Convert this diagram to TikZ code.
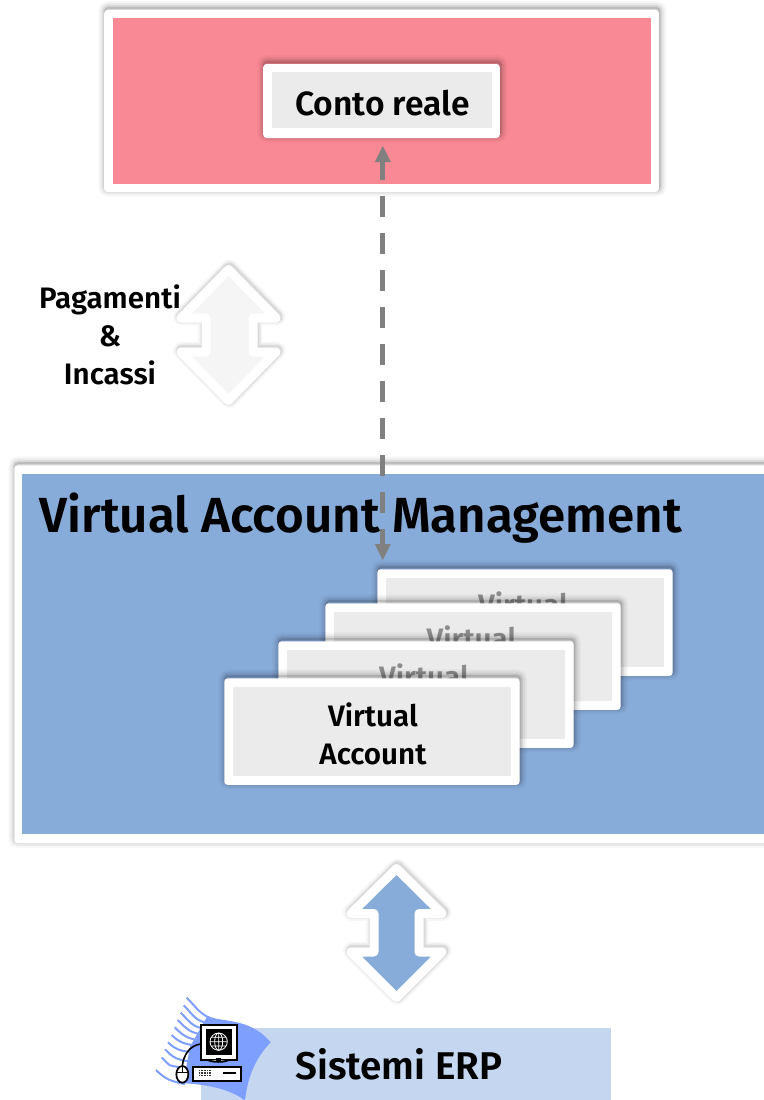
\documentclass[tikz,border=0pt]{standalone}
\usepackage{fontspec}
\setmainfont{Fira Sans SemiBold}
\definecolor{pinkfill}{HTML}{F98994}
\definecolor{bluefill}{HTML}{88ACDA}
\definecolor{cardgray}{HTML}{EBEBEB}
\definecolor{erpfill}{HTML}{C5D7F0}
\definecolor{swoosh}{HTML}{7F9FFF}
\definecolor{dashgray}{HTML}{808080}
\tikzset{
  softshadow/.style={
    preaction={draw=black,draw opacity=.03,line width=10pt,transform canvas={shift={(.6pt,1.6pt)}}},
    preaction={draw=black,draw opacity=.05,line width=7pt,transform canvas={shift={(.6pt,1.6pt)}}},
    preaction={draw=black,draw opacity=.08,line width=4pt,transform canvas={shift={(.6pt,1.6pt)}}},
    preaction={draw=black,draw opacity=.12,line width=1.5pt,transform canvas={shift={(.6pt,1.6pt)}}}},
  frame/.style={fill=white,rounded corners=2.5pt,inner sep=0pt,softshadow},
  panel/.style={inner sep=0pt,align=center},
  arrowshadow/.style={
    preaction={draw=black,draw opacity=.03,line width=13pt,line join=round,transform canvas={shift={(.6pt,1pt)}}},
    preaction={draw=black,draw opacity=.05,line width=10.5pt,line join=round,transform canvas={shift={(.6pt,1pt)}}},
    preaction={draw=black,draw opacity=.07,line width=8.5pt,line join=round,transform canvas={shift={(.6pt,1pt)}}}},
  bigarrow/.style={draw=white,line width=6.75pt,line join=round,arrowshadow},
  lbl/.style={align=center,inner sep=0pt,font=\fontsize{22.2pt}{28.5pt}\selectfont},
  linkline/.style={draw=dashgray,line width=4.1pt,dash pattern=on 15.75pt off 12pt,shorten <=9.75pt,shorten >=9.75pt},
  linktip/.style={fill=dashgray,draw=none},
}
\newcommand{\vcard}[7]{% name, left, top, text color, text centre x, text centre y, text
  \node[frame,minimum width=221.5pt,minimum height=80pt,anchor=north west] (#1) at (#2,#3) {};
  \node[panel,fill=cardgray,minimum width=208pt,minimum height=67pt] (#1in) at (#1.center) {};
  \node[lbl,text=#4,anchor=center] (#1txt) at (#5,#6) {#7};
}
\begin{document}
\begin{tikzpicture}[x=0.75pt,y=-0.75pt]
\useasboundingbox (0,0) rectangle (764,1100);
\clip (0,0) rectangle (764,1100);
\fill[white] (0,0) rectangle (764,1100);

% top panel
\node[frame,minimum width=416pt,minimum height=136.5pt] (realframe) at (381.5,101) {};
\node[panel,fill=pinkfill,minimum width=403.5pt,minimum height=124.5pt] (realpanel) at (382,101) {};
\node[frame,minimum width=177.5pt,minimum height=55.5pt] (contoframe) at (381.5,101) {};
\node[panel,fill=cardgray,minimum width=165pt,minimum height=42pt] (contoin) at (382,100) {};
\node[inner sep=0pt,anchor=base,font=\fontsize{25.2pt}{30pt}\selectfont] (conto) at (382.5,115) {Conto reale};

% Pagamenti arrow and label
\draw[bigarrow,fill=white!96!black] (228.5,269.5) -- (276,318) -- (253,318) -- (253,352) -- (276,352) -- (228.5,400.5) -- (181,352) -- (206,352) -- (206,318) -- (181,318) -- cycle;
\node[lbl,anchor=center] (pag) at (110,335) {Pagamenti\\\&\\Incassi};

% VAM panel
\node[frame,minimum width=600pt,minimum height=283.5pt,anchor=north west] (vamframe) at (14,465) {};
\node[panel,fill=bluefill,minimum width=600pt,minimum height=270pt,anchor=north west] (vampanel) at (22,474) {};
\node[inner sep=0pt,anchor=base west,font=\fontsize{37pt}{44pt}\selectfont] (vamtitle) at (39.5,532) {Virtual Account Management};

% cards, back to front
\vcard{cardA}{377}{569}{black!45}{523}{604}{Virtual}
\vcard{cardB}{325}{603}{black!45}{471.5}{638}{Virtual}
\vcard{cardC}{278}{641}{black!45}{424}{676}{Virtual}
\vcard{cardD}{224}{678}{black}{373}{734}{Virtual\\Account}

% link
\coordinate (linktop) at (382.75,146);
\coordinate (linkbot) at (382.75,560);
\draw[linkline] (linktop) -- (linkbot);
\fill[linktip] (linktop) -- ++(-8,16) -- ++(16,0) -- cycle;
\fill[linktip] (linkbot) -- ++(-8,-16) -- ++(16,0) -- cycle;

% blue arrow
\draw[bigarrow,fill=bluefill] (396.5,868.5) -- (442,913.5) -- (419,913.5) -- (419,952) -- (442,952) -- (396.5,997.5) -- (351,952) -- (374,952) -- (374,913.5) -- (351,913.5) -- cycle;

% ERP
\node[panel,fill=erpfill,minimum width=307pt,minimum height=60pt,anchor=north west] (erpbox) at (201,1028) {};
\node[inner sep=0pt,anchor=base west,font=\fontsize{29pt}{30pt}\selectfont] (erp) at (295,1079) {Sistemi ERP};

% icon (drawn directly in zoomed coordinates)
\begin{scope}[shift={(140,980)},x=0.25pt,y=-0.25pt]
  \fill[swoosh] (200,112) .. controls (280,125) and (340,125) .. (392,187) .. controls (345,235) and (322,295) .. (315,362) .. controls (270,325) and (190,312) .. (130,310) -- (150,200) -- cycle;
  \foreach \xa/\ya/\xb/\yb in {140/53/225/118, 131/76/205/130, 122/98/195/147, 113/120/190/165, 104/142/185/183, 95/165/185/200, 84/187/175/220, 75/208/150/245, 65/232/120/262, 48/270/135/312}{
    \draw[swoosh,line width=1.5pt] (\xa,\ya) .. controls (\xa+30,\ya+30) and (\xb-40,\yb-8) .. (\xb,\yb);
  }
  \draw[black,line width=1.5pt,fill=white] (183,135) rectangle (290,240);
  \fill[black] (197,147) rectangle (277,225);
  \draw[black,line width=1.5pt,fill=white] (205,240) .. controls (215,247) and (255,247) .. (265,240);
  \fill[black] (228,234) rectangle (243,243);
  \draw[white,line width=.6pt] (236,185) circle (26) (236,159) -- (236,211) (210,185) -- (262,185) (213,172) -- (259,172) (213,198) -- (259,198);
  \draw[white,line width=.6pt] (236,185) ellipse (12 and 26);
  \draw[black,line width=1.5pt,fill=white] (160,260) rectangle (303,303);
  \draw[black,line width=1.1pt] (248,279) -- (288,279);
  \foreach \i in {0,...,4}{\foreach \j in {0,1,2}{\fill[black!80] (176+\i*8,270+\j*7) rectangle ++(5,4);}}
  \draw[black,line width=1.2pt] (183,192) .. controls (150,195) and (130,225) .. (127,258);
  \draw[black,line width=1.3pt,fill=white] (127,283) ellipse (18 and 25);
  \draw[black,line width=.9pt] (109,278) -- (145,278) (127,258) -- (127,278);
\end{scope}
\end{tikzpicture}
\end{document}
